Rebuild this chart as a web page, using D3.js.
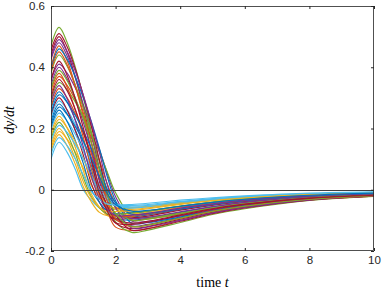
<!DOCTYPE html>
<html>
<head>
<meta charset="utf-8">
<script src="https://cdn.jsdelivr.net/npm/d3@7"></script>
<style>
  html, body { margin: 0; padding: 0; background: #fff; }
  svg { display: block; }
</style>
</head>
<body>
<div id="chart"></div>
<script>
// sample times (s) shared by every trajectory
const timeT = [0, 0.25, 0.5, 0.75, 1, 1.25, 1.5, 1.75, 2, 2.5, 3, 4, 5, 6, 8, 10];

// dy/dt for each trajectory, in drawing order
const dydt = [
  [.265, .32, .286, .229, .160, .080, -.005, -.057, -.092, -.099, -.093, -.074, -.056, -.042, -.025, -.016],
  [.40, .47, .421, .340, .240, .126, 0, -.072, -.122, -.133, -.126, -.100, -.076, -.057, -.033, -.021],
  [.185, .24, .202, .139, .062, -.014, -.057, -.084, -.088, -.084, -.077, -.060, -.045, -.034, -.020, -.013],
  [.355, .41, .381, .333, .274, .207, .132, .051, -.023, -.102, -.103, -.086, -.066, -.050, -.029, -.018],
  [.47, .53, .481, .401, .302, .189, .064, -.040, -.105, -.139, -.132, -.107, -.081, -.062, -.035, -.022],
  [.10, .155, .122, .067, 0, -.034, -.059, -.065, -.064, -.060, -.055, -.042, -.032, -.024, -.014, -.009],
  [.44, .50, .45, .369, .269, .154, .027, -.056, -.109, -.127, -.120, -.096, -.073, -.055, -.032, -.020],
  [.225, .28, .248, .195, .130, .055, -.016, -.061, -.086, -.088, -.082, -.065, -.050, -.037, -.022, -.014],
  [.31, .37, .341, .294, .236, .170, .096, .017, -.043, -.098, -.095, -.078, -.060, -.045, -.026, -.016],
  [.135, .19, .165, .123, .071, .013, -.026, -.051, -.060, -.058, -.054, -.042, -.032, -.024, -.014, -.009],
  [.425, .48, .437, .366, .279, .180, .070, -.026, -.083, -.118, -.113, -.091, -.069, -.053, -.030, -.019],
  [.29, .35, .326, .287, .239, .183, .123, .056, -.010, -.086, -.090, -.076, -.059, -.044, -.026, -.015],
  [.235, .29, .261, .214, .156, .089, .015, -.026, -.051, -.059, -.056, -.045, -.034, -.026, -.015, -.009],
  [.245, .30, .260, .194, .113, .020, -.041, -.081, -.095, -.092, -.086, -.067, -.050, -.038, -.022, -.014],
  [.39, .46, .426, .370, .300, .222, .134, .040, -.036, -.109, -.107, -.089, -.068, -.051, -.030, -.018],
  [.27, .33, .300, .249, .188, .118, .040, -.022, -.056, -.075, -.071, -.057, -.044, -.033, -.019, -.012],
  [.125, .18, .143, .084, .010, -.040, -.074, -.085, -.084, -.080, -.073, -.055, -.042, -.032, -.019, -.012],
  [.34, .40, .362, .298, .220, .132, .033, -.035, -.077, -.094, -.090, -.072, -.055, -.041, -.024, -.015],
  [.38, .44, .403, .343, .268, .183, .090, -.007, -.059, -.100, -.096, -.079, -.060, -.045, -.026, -.016],
  [.195, .25, .224, .181, .128, .067, 0, -.028, -.047, -.051, -.048, -.038, -.029, -.022, -.013, -.008],
  [.455, .51, .467, .395, .308, .207, .096, -.015, -.082, -.132, -.127, -.103, -.078, -.059, -.034, -.021],
  [.205, .26, .223, .161, .086, 0, -.041, -.070, -.078, -.075, -.069, -.054, -.041, -.031, -.018, -.012],
  [.325, .38, .335, .262, .171, .068, -.019, -.062, -.086, -.086, -.080, -.063, -.048, -.036, -.021, -.013],
  [.175, .23, .202, .157, .101, .036, -.017, -.048, -.064, -.064, -.059, -.046, -.035, -.027, -.015, -.010],
  [.43, .49, .451, .388, .309, .220, .121, .014, -.059, -.125, -.121, -.100, -.076, -.058, -.033, -.020],
  [.165, .22, .182, .119, .041, -.023, -.060, -.079, -.080, -.076, -.069, -.053, -.040, -.030, -.018, -.012],
  [.155, .21, .187, .148, .101, .047, -.006, -.034, -.052, -.054, -.051, -.040, -.031, -.023, -.013, -.008],
  [.30, .36, .323, .262, .187, .102, .008, -.054, -.097, -.109, -.103, -.082, -.062, -.047, -.027, -.017],
  [.25, .31, .285, .243, .193, .134, .070, 0, -.042, -.080, -.077, -.063, -.048, -.036, -.021, -.013],
  [.385, .45, .408, .338, .252, .154, .046, -.040, -.095, -.121, -.116, -.093, -.070, -.053, -.031, -.019],
  [.145, .20, .163, .102, .026, -.027, -.058, -.072, -.071, -.068, -.062, -.048, -.036, -.027, -.016, -.010],
  [.285, .34, .297, .227, .141, .043, -.028, -.066, -.084, -.083, -.077, -.060, -.046, -.034, -.020, -.013],
  [.33, .39, .356, .300, .232, .154, .067, -.019, -.078, -.120, -.115, -.093, -.071, -.054, -.031, -.019],
  [.115, .17, .144, .101, .048, -.006, -.031, -.047, -.050, -.048, -.044, -.034, -.026, -.020, -.011, -.007],
  [.36, .42, .373, .297, .202, .095, -.013, -.071, -.108, -.113, -.106, -.084, -.064, -.048, -.028, -.018],
  [.215, .27, .246, .207, .158, .103, .042, -.014, -.048, -.070, -.067, -.054, -.041, -.031, -.018, -.011]
];

const xTicks = [0, 2, 4, 6, 8, 10];
const yTicks = [-0.2, 0, 0.2, 0.4, 0.6];
const yTickLabels = ['-0.2', '0', '0.2', '0.4', '0.6'];

// matlab default colour order
const lineColors = ['#0072BD', '#D95319', '#EDB120', '#7E2F8E', '#77AC30', '#4DBEEE', '#A2142F'];

const width = 382, height = 290;
const m = { left: 51, right: 374, top: 6, bottom: 251 };

const svg = d3.select('#chart').append('svg')
  .attr('width', width)
  .attr('height', height)
  .style('font-family', '"Liberation Sans", Arial, sans-serif');

const x = d3.scaleLinear().domain([0, 10]).range([m.left, m.right]);
const y = d3.scaleLinear().domain([-0.2, 0.6]).range([m.bottom, m.top]);

svg.append('clipPath').attr('id', 'plotclip')
  .append('rect')
  .attr('x', m.left).attr('y', m.top)
  .attr('width', m.right - m.left).attr('height', m.bottom - m.top);

const line = d3.line()
  .x((d, i) => x(timeT[i]))
  .y(d => y(d))
  .curve(d3.curveCatmullRom.alpha(0.5));

const plot = svg.append('g').attr('clip-path', 'url(#plotclip)');

plot.selectAll('path.traj')
  .data(dydt)
  .join('path')
  .attr('class', 'traj')
  .attr('fill', 'none')
  .attr('stroke', (d, i) => lineColors[i % lineColors.length])
  .attr('stroke-width', 1.15)
  .attr('d', line);

// zero reference line
plot.append('line')
  .attr('x1', x(0)).attr('x2', x(10))
  .attr('y1', Math.round(y(0)) + 0.5).attr('y2', Math.round(y(0)) + 0.5)
  .attr('stroke', '#404040')
  .attr('stroke-width', 1);

// axes, ticks pointing inward
const axisColor = '#262626';
const fmtY = d => yTickLabels[yTicks.indexOf(d)];

function styleAxis(g) {
  g.select('.domain').remove();
  g.selectAll('.tick line').attr('stroke', axisColor);
  g.selectAll('.tick text').attr('fill', axisColor).style('font-size', '11.5px');
}

svg.append('g')
  .attr('transform', `translate(0,${m.bottom})`)
  .call(d3.axisBottom(x).tickValues(xTicks).tickSize(-3).tickPadding(5).tickFormat(d3.format('d')))
  .call(styleAxis);

svg.append('g')
  .attr('transform', `translate(0,${m.top})`)
  .call(d3.axisTop(x).tickValues(xTicks).tickSize(-3).tickFormat(''))
  .call(styleAxis);

svg.append('g')
  .attr('transform', `translate(${m.left},0)`)
  .call(d3.axisLeft(y).tickValues(yTicks).tickSize(-3).tickPadding(6).tickFormat(fmtY))
  .call(styleAxis);

svg.append('g')
  .attr('transform', `translate(${m.right},0)`)
  .call(d3.axisRight(y).tickValues(yTicks).tickSize(-3).tickFormat(''))
  .call(styleAxis);

svg.append('rect')
  .attr('x', m.left + 0.5).attr('y', m.top + 0.5)
  .attr('width', m.right - m.left - 1).attr('height', m.bottom - m.top - 1)
  .attr('fill', 'none')
  .attr('stroke', axisColor)
  .attr('stroke-width', 0.8);

// axis titles
const xlab = svg.append('text')
  .attr('x', (m.left + m.right) / 2)
  .attr('y', 287)
  .attr('text-anchor', 'middle')
  .style('font-family', '"Liberation Serif", "Times New Roman", serif')
  .style('font-size', '14px')
  .attr('fill', '#000');
xlab.append('tspan').text('time ');
xlab.append('tspan').style('font-style', 'italic').text('t');

svg.append('text')
  .attr('transform', 'translate(14,120) rotate(-90)')
  .attr('text-anchor', 'middle')
  .style('font-family', '"Liberation Serif", "Times New Roman", serif')
  .style('font-size', '14px')
  .style('font-style', 'italic')
  .attr('fill', '#000')
  .text('dy/dt');
</script>
</body>
</html>
